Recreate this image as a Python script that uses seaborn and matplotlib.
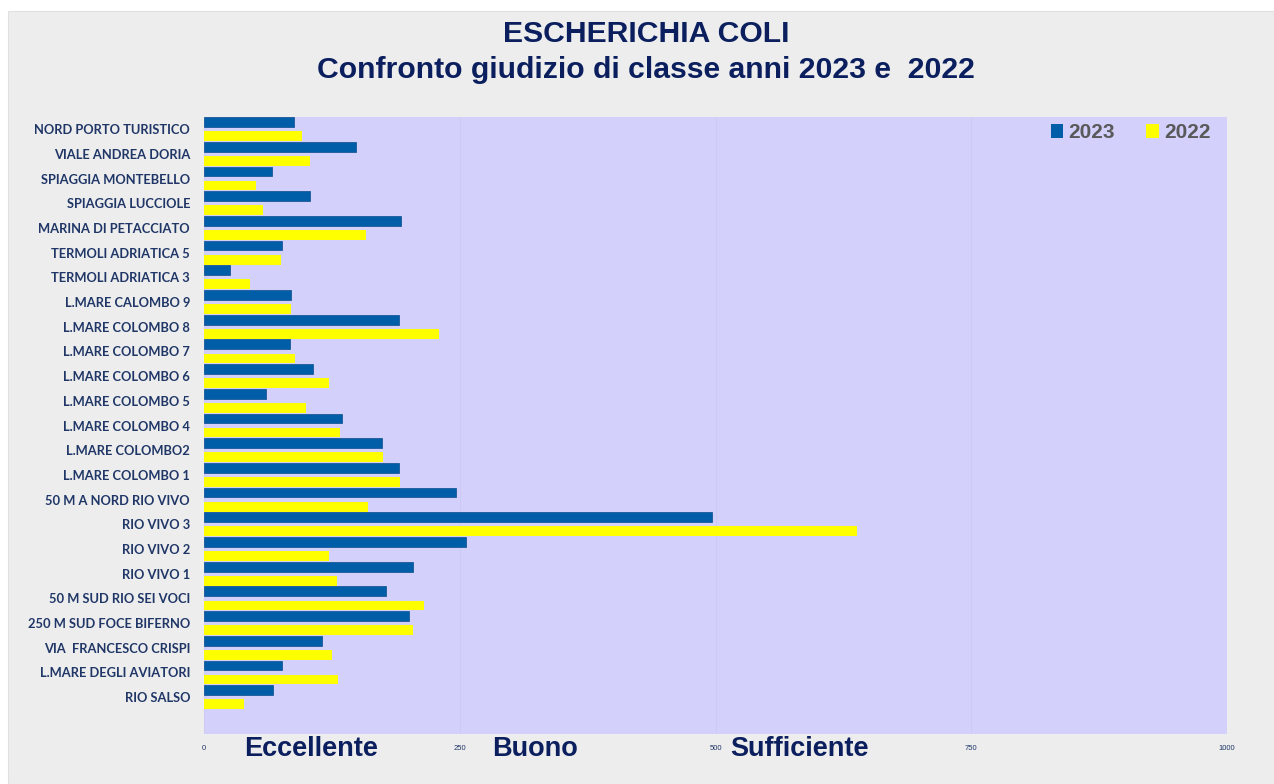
import numpy as np
import pandas as pd
import seaborn as sns
import matplotlib.pyplot as plt
from matplotlib.patches import Rectangle

# siti di campionamento (dall'alto verso il basso)
sites = ["NORD PORTO TURISTICO", "VIALE ANDREA DORIA", "SPIAGGIA MONTEBELLO",
         "SPIAGGIA LUCCIOLE", "MARINA DI PETACCIATO", "TERMOLI ADRIATICA 5",
         "TERMOLI ADRIATICA 3", "L.MARE CALOMBO 9", "L.MARE COLOMBO 8",
         "L.MARE COLOMBO 7", "L.MARE COLOMBO 6", "L.MARE COLOMBO 5",
         "L.MARE COLOMBO 4", "L.MARE COLOMBO2", "L.MARE COLOMBO 1",
         "50 M A NORD RIO VIVO", "RIO VIVO 3", "RIO VIVO 2", "RIO VIVO 1",
         "50 M SUD RIO SEI VOCI", "250 M SUD FOCE BIFERNO", "VIA  FRANCESCO CRISPI",
         "L.MARE DEGLI AVIATORI", "RIO SALSO"]
vals_2023 = [88, 149, 66, 104, 193, 76, 25, 85, 191, 84, 107, 61,
             135, 174, 191, 246, 497, 256, 204, 178, 200, 115, 76, 67]
vals_2022 = [96, 104, 51, 58, 158, 75, 45, 85, 230, 89, 122, 100,
             133, 175, 192, 160, 638, 122, 130, 215, 204, 125, 131, 39]
years = ["2023", "2022"]
x_ticks = [0, 250, 500, 750, 1000]
classes = ["Eccellente", "Buono", "Sufficiente"]
class_x = [105, 324, 582]

df = pd.DataFrame({
    "site": sites * 2,
    "year": ["2023"] * len(sites) + ["2022"] * len(sites),
    "value": vals_2023 + vals_2022,
})

navy = "#0B1F5E"
label_col = "#1F3667"

fig = plt.figure(figsize=(12.74, 7.84), dpi=100, facecolor="white")
# pannello grigio di sfondo
fig.patches.append(Rectangle((8 / 1274, 0), 1 - 8 / 1274, 1 - 11 / 784,
                             transform=fig.transFigure, facecolor="#EDEDED",
                             edgecolor="#E0E0E0", lw=0.8, zorder=-10))

ax = fig.add_axes([204 / 1274, 50 / 784, 1023 / 1274, 617 / 784])
ax.set_facecolor("#D3D0FC")

sns.barplot(data=df, y="site", x="value", hue="year", order=sites,
            hue_order=years, palette={"2023": "#005EA8", "2022": "#FFFF00"},
            orient="h", width=1.14, gap=0.3, saturation=1, ax=ax, zorder=3)

for bar in ax.containers[0]:
    bar.set_edgecolor("#1B5A98")
    bar.set_linewidth(0.6)

ax.set_xlim(0, 1000)
ax.set_ylim(24.49, -0.49)
ax.set_xticks(x_ticks)
ax.set_xticklabels([str(t) for t in x_ticks], fontsize=5.5, color=label_col,
                   family="Liberation Sans")
for t in ax.get_yticklabels():
    t.set_fontsize(9.3)
    t.set_fontweight("bold")
    t.set_color(label_col)
    t.set_family("Lato")
ax.tick_params(axis="x", length=0, pad=8)
ax.tick_params(axis="y", length=0, pad=10)
ax.set_xlabel("")
ax.set_ylabel("")
for s in ax.spines.values():
    s.set_visible(False)
ax.grid(axis="x", color="#CCC9F3", lw=0.7, zorder=0)
ax.set_axisbelow(True)

leg = ax.legend(loc="upper right", bbox_to_anchor=(1 - 8 / 1023, 1 + 2 / 617),
                ncol=2, frameon=False, handlelength=0.6, handleheight=0.6,
                handletextpad=0.25, columnspacing=1.5, borderaxespad=0,
                prop={"family": "Liberation Sans", "weight": "bold", "size": 15})
for txt in leg.get_texts():
    txt.set_color("#595959")

# classi di giudizio sotto l'asse
for name, xc in zip(classes, class_x):
    ax.text(xc, -0.025, name, transform=ax.get_xaxis_transform(),
            ha="center", va="center", fontsize=19.5, fontweight="bold",
            color=navy, family="Liberation Sans")

fig.text(646 / 1274, 1 - 34 / 784, "ESCHERICHIA COLI", ha="center", va="center",
         fontsize=21.7, fontweight="bold", color=navy, family="Liberation Sans")
fig.text(646 / 1274, 1 - 70 / 784, "Confronto giudizio di classe anni 2023 e  2022",
         ha="center", va="center", fontsize=21.7, fontweight="bold", color=navy,
         family="Liberation Sans")

fig.savefig("out.png", dpi=100, facecolor=fig.get_facecolor())
